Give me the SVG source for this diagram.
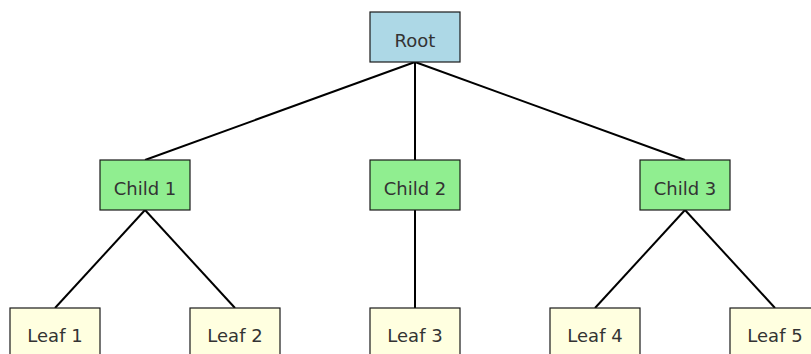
<svg xmlns="http://www.w3.org/2000/svg" width="811" height="354" viewBox="0 0 811 354">
  <style>
    .box { stroke: #1a1a1a; stroke-width: 1.2; }
    .root { fill: #add8e6; }
    .child { fill: #90ee90; }
    .leaf { fill: #ffffe0; }
    .label { font-family: "DejaVu Sans", sans-serif; font-size: 18px; fill: #333333; text-anchor: middle; }
    .edge { stroke: #000000; stroke-width: 2; fill: none; }
  </style>
  <rect width="811" height="354" fill="#ffffff"/>
  <g id="connectors">
    <line class="edge" x1="415" y1="62" x2="145" y2="160"/>
    <line class="edge" x1="415" y1="62" x2="415" y2="160"/>
    <line class="edge" x1="415" y1="62" x2="685" y2="160"/>
    <line class="edge" x1="145" y1="210" x2="55" y2="308"/>
    <line class="edge" x1="145" y1="210" x2="235" y2="308"/>
    <line class="edge" x1="415" y1="210" x2="415" y2="308"/>
    <line class="edge" x1="685" y1="210" x2="595" y2="308"/>
    <line class="edge" x1="685" y1="210" x2="775" y2="308"/>
  </g>
  <g id="root">
    <rect class="box root" x="370" y="12" width="90" height="50"/>
    <text class="label" x="415" y="47">Root</text>
  </g>
  <g id="child1">
    <rect class="box child" x="100" y="160" width="90" height="50"/>
    <text class="label" x="145" y="195">Child 1</text>
  </g>
  <g id="child2">
    <rect class="box child" x="370" y="160" width="90" height="50"/>
    <text class="label" x="415" y="195">Child 2</text>
  </g>
  <g id="child3">
    <rect class="box child" x="640" y="160" width="90" height="50"/>
    <text class="label" x="685" y="195">Child 3</text>
  </g>
  <g id="leaf1">
    <rect class="box leaf" x="10" y="308" width="90" height="50"/>
    <text class="label" x="55" y="342">Leaf 1</text>
  </g>
  <g id="leaf2">
    <rect class="box leaf" x="190" y="308" width="90" height="50"/>
    <text class="label" x="235" y="342">Leaf 2</text>
  </g>
  <g id="leaf3">
    <rect class="box leaf" x="370" y="308" width="90" height="50"/>
    <text class="label" x="415" y="342">Leaf 3</text>
  </g>
  <g id="leaf4">
    <rect class="box leaf" x="550" y="308" width="90" height="50"/>
    <text class="label" x="595" y="342">Leaf 4</text>
  </g>
  <g id="leaf5">
    <rect class="box leaf" x="730" y="308" width="90" height="50"/>
    <text class="label" x="775" y="342">Leaf 5</text>
  </g>
</svg>
